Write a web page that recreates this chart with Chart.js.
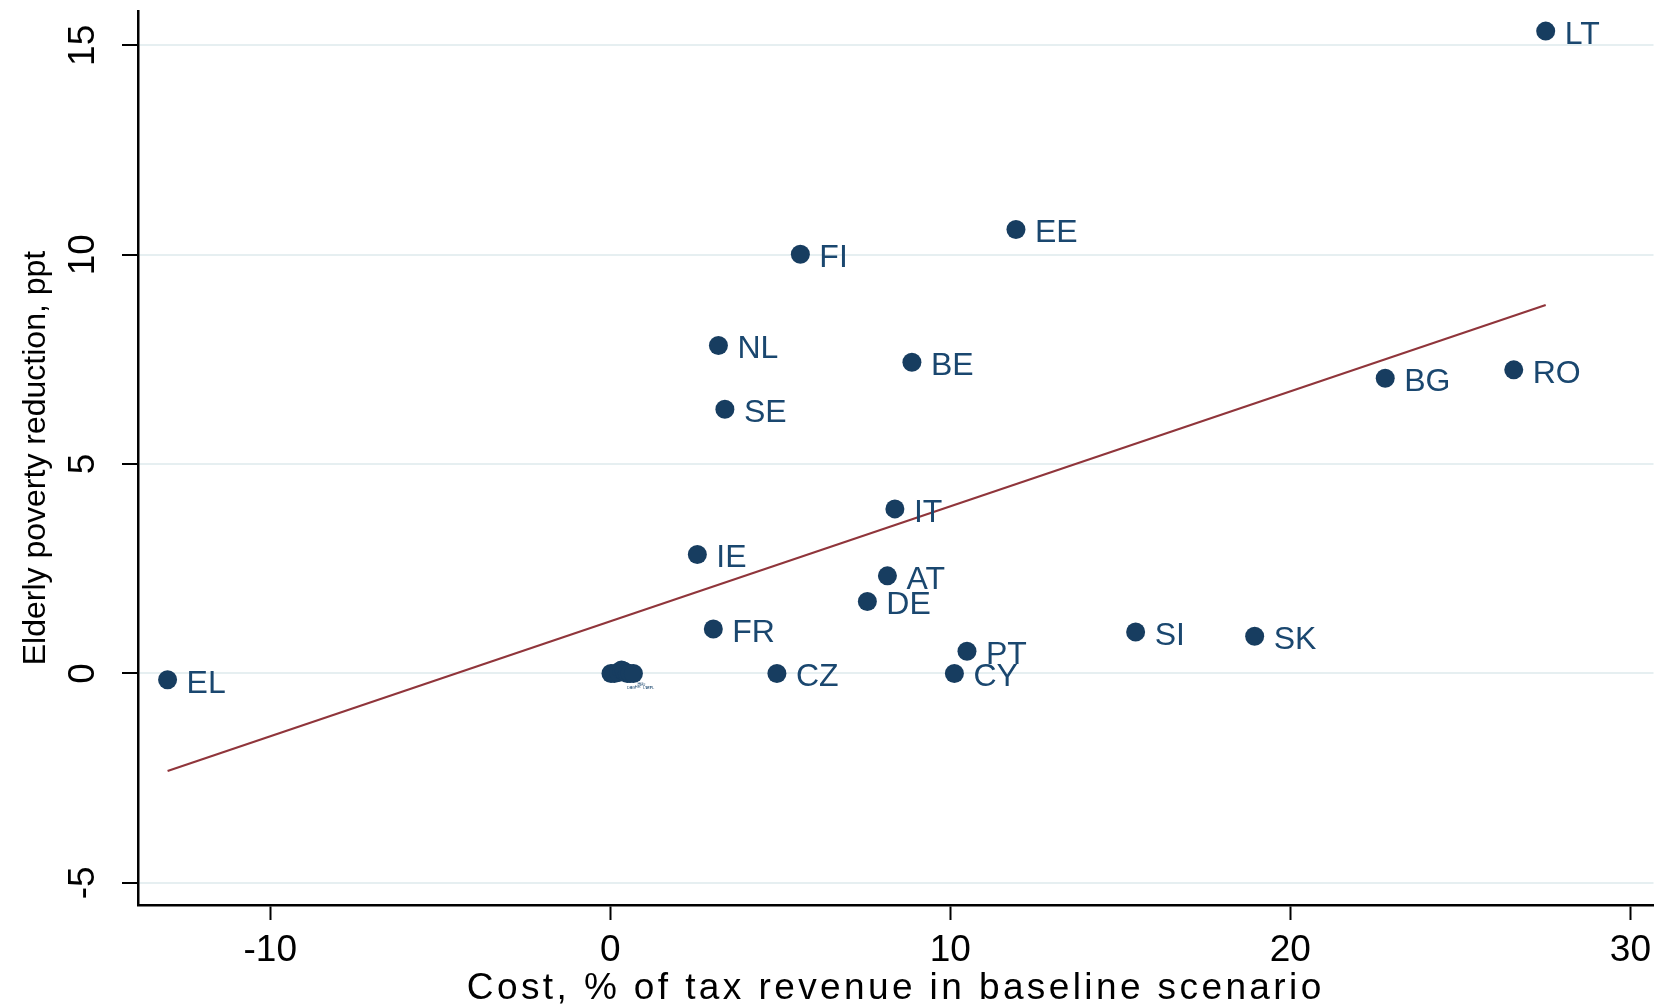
<!DOCTYPE html>
<html>
<head>
<meta charset="utf-8">
<script src="https://cdn.jsdelivr.net/npm/chart.js@4.4.1/dist/chart.umd.min.js"></script>
<style>
  html, body { margin: 0; padding: 0; background: #ffffff; overflow: hidden; }
  #wrap { width: 1663px; height: 1007px; position: relative; }
  #chart { display: block; }
</style>
</head>
<body>
<div id="wrap"><canvas id="chart"></canvas></div>
<script>
// Labelled countries: cost (% of tax revenue) and elderly poverty reduction (ppt)
const countries = ['LT', 'EE', 'FI', 'NL', 'BE', 'SE', 'BG', 'RO', 'IT', 'IE', 'AT', 'DE', 'FR', 'SI', 'SK', 'PT', 'CY', 'CZ', 'EL'];
const costValues = [27.51, 11.93, 5.59, 3.18, 8.87, 3.37, 22.79, 26.57, 8.37, 2.56, 8.15, 7.56, 3.03, 15.45, 18.95, 10.49, 10.12, 4.90, -13.02];
const povertyValues = [15.34, 10.60, 10.01, 7.83, 7.43, 6.31, 7.05, 7.25, 3.93, 2.84, 2.33, 1.72, 1.06, 0.99, 0.89, 0.53, 0.00, 0.00, -0.15];

// Countries with (near) zero cost and zero effect, bunched at the origin
const clusterCountries = ['DK', 'ES', 'HR', 'HU', 'LU', 'LV', 'MT', 'PL'];
const clusterCost = [0.02, 0.12, 0.25, 0.33, 0.41, 0.50, 0.58, 0.68];
const clusterPoverty = [0.00, 0.00, 0.02, 0.08, 0.05, 0.00, 0.00, 0.00];

// Linear fit end points
const fitCost = [-13.02, 27.51];
const fitPoverty = [-2.33, 8.80];

// Axis ticks
const xTicks = [-10, 0, 10, 20, 30];
const yTicks = [-5, 0, 5, 10, 15];

const xTitle = 'Cost, % of tax revenue in baseline scenario';
const yTitle = 'Elderly poverty reduction, ppt';

const markerColor = '#173d60';
const labelColor = '#1a476f';
const fitColor = '#90353b';

const pts = (xs, ys) => xs.map((x, i) => ({ x: x, y: ys[i] }));

// Marker labels at 3 o'clock
const markerLabels = {
  id: 'markerLabels',
  afterDatasetsDraw(chart) {
    const ctx = chart.ctx;
    chart.data.datasets.forEach((ds, di) => {
      if (!ds.pointLabels) return;
      const meta = chart.getDatasetMeta(di);
      ctx.save();
      ctx.font = ds.labelFont;
      ctx.fillStyle = labelColor;
      ctx.textAlign = 'left';
      ctx.textBaseline = 'middle';
      meta.data.forEach((el, i) => {
        ctx.fillText(ds.pointLabels[i], el.x + ds.labelDx, el.y + ds.labelDy);
      });
      ctx.restore();
    });
  }
};

// Tick labels and axis titles
const axisText = {
  id: 'axisText',
  afterDraw(chart) {
    const ctx = chart.ctx;
    const xs = chart.scales.x, ys = chart.scales.y;
    const area = chart.chartArea;
    ctx.save();
    ctx.fillStyle = '#000000';

    // x tick labels
    ctx.font = '37px "Liberation Sans Narrow", "Liberation Sans", Arial, sans-serif';
    ctx.textAlign = 'center';
    ctx.textBaseline = 'middle';
    xTicks.forEach(v => {
      ctx.fillText(String(v), xs.getPixelForValue(v), 951);
    });

    // y tick labels, rotated
    ctx.font = '37px "Liberation Sans", Arial, sans-serif';
    yTicks.forEach(v => {
      ctx.save();
      ctx.translate(84, ys.getPixelForValue(v));
      ctx.rotate(-Math.PI / 2);
      ctx.fillText(String(v), 0, 0);
      ctx.restore();
    });

    // x title
    ctx.font = '37px "Liberation Sans Narrow", "Liberation Sans", Arial, sans-serif';
    ctx.letterSpacing = '3.4px';
    ctx.fillText(xTitle, (area.left + area.right) / 2, 989);
    ctx.letterSpacing = '0px';

    // y title
    ctx.font = '32px "Liberation Sans", Arial, sans-serif';
    ctx.save();
    ctx.translate(36, (area.top + area.bottom) / 2);
    ctx.rotate(-Math.PI / 2);
    ctx.fillText(yTitle, 0, 0);
    ctx.restore();

    ctx.restore();
  }
};

new Chart(document.getElementById('chart'), {
  type: 'scatter',
  data: {
    datasets: [
      {
        type: 'line',
        data: pts(fitCost, fitPoverty),
        borderColor: fitColor,
        borderWidth: 2.2,
        pointRadius: 0,
        fill: false,
        order: 2
      },
      {
        data: pts(costValues, povertyValues),
        backgroundColor: markerColor,
        borderColor: markerColor,
        pointRadius: 9.5,
        pointBorderWidth: 0,
        pointLabels: countries,
        labelFont: '32px "Liberation Sans", Arial, sans-serif',
        labelDx: 19,
        labelDy: 4,
        order: 1
      },
      {
        data: pts(clusterCost, clusterPoverty),
        backgroundColor: markerColor,
        borderColor: markerColor,
        pointRadius: 9.5,
        pointBorderWidth: 0,
        pointLabels: clusterCountries,
        labelFont: '4px "Liberation Sans", Arial, sans-serif',
        labelDx: 16,
        labelDy: 14,
        order: 1
      }
    ]
  },
  options: {
    responsive: true,
    maintainAspectRatio: false,
    animation: false,
    layout: { padding: { left: 122, top: 11, right: 4, bottom: 87 } },
    plugins: { legend: { display: false }, tooltip: { enabled: false } },
    scales: {
      x: {
        type: 'linear',
        min: -13.89,
        max: 30.68,
        ticks: { display: false, stepSize: 10, includeBounds: false },
        grid: { color: 'rgba(0,0,0,0)', tickColor: '#000000', tickLength: 15, tickWidth: 2 },
        border: { color: '#000000', width: 2.5 }
      },
      y: {
        type: 'linear',
        min: -5.53,
        max: 15.82,
        ticks: { display: false, stepSize: 5, includeBounds: false },
        grid: { color: '#e6eff1', lineWidth: 2, tickColor: '#000000', tickLength: 16, tickWidth: 2 },
        border: { color: '#000000', width: 2.5 }
      }
    }
  },
  plugins: [markerLabels, axisText]
});
</script>
</body>
</html>
